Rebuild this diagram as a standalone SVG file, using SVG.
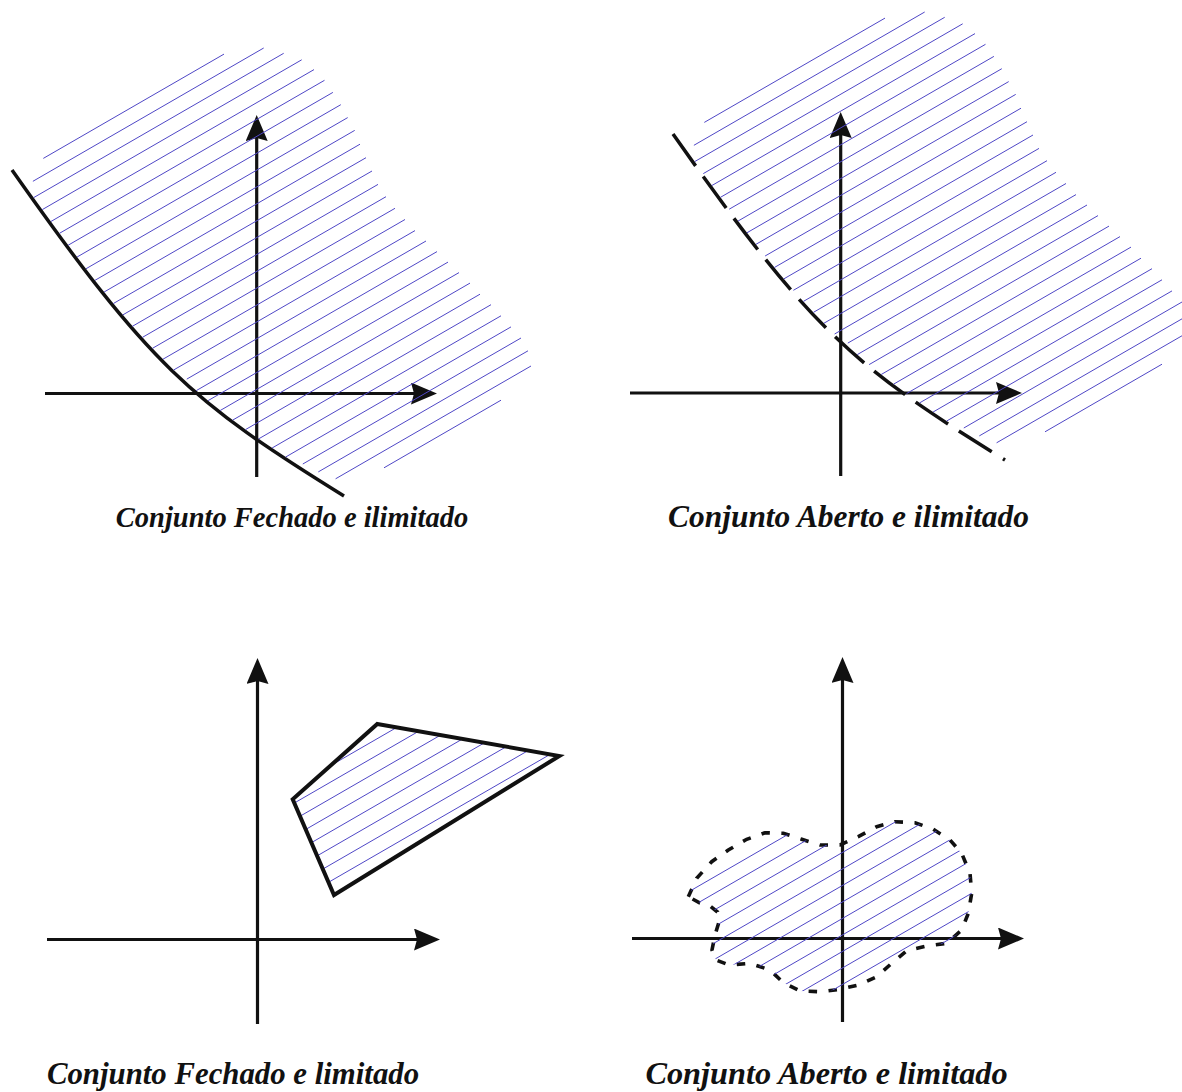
<svg xmlns="http://www.w3.org/2000/svg" width="1182" height="1092" viewBox="0 0 1182 1092">
<style>
.ax{stroke:#111;stroke-width:3.2;fill:none;marker-end:url(#ah)}
.h line,.h path{stroke:#4f47c6;stroke-width:1;fill:none}
.lbl{font-family:"Liberation Serif","Times New Roman",serif;font-weight:bold;font-style:italic;fill:#111;text-anchor:middle}
.bd{stroke:#111;fill:none}
</style>
<defs>
<marker id="ah" viewBox="0 0 26 22" refX="11" refY="11" markerWidth="26" markerHeight="22" markerUnits="userSpaceOnUse" orient="auto">
<path d="M0,0 L26,11 L0,22 L3,11 Z" fill="#111"/>
</marker>
<clipPath id="polyClip"><polygon points="377.3,724 559.3,756 334,895 292.7,799.3"/></clipPath>
<clipPath id="blobClip"><path id="blobShape" d="M688.3,896.7 L696.7,878.3 L711.7,861.7 L728.3,850 L746.7,839.3 L765,832.7 L783.3,833.3 L801.7,839.3 L820,845 L840,845 L858.3,836.7 L876.7,826.7 L895,821.7 L915,822.7 L933.3,829.3 L950,840 L961.7,853.3 L970,873.3 L971.7,893.3 L968.3,913.3 L961.7,930 L946.7,943.3 L926.7,946 L906.7,950.7 L891.7,963.3 L876.7,976.7 L858.3,985 L840,989.3 L820,991.7 L800,991 L783.3,982.7 L770,970 L750,963.3 L729,965 L716,960 L712,950 L715,935 L719,922 L717.5,912 L710,906 L700,903 Z"/></clipPath>
<g id="hatchTop" class="h">
<line x1="43.3" y1="158.4" x2="224" y2="54.1"/>
<line x1="32.9" y1="181.3" x2="263.7" y2="48"/>
<line x1="33.7" y1="197.6" x2="283.7" y2="53.3"/>
<line x1="42.3" y1="209.6" x2="301.7" y2="59.8"/>
<line x1="50.9" y1="221.5" x2="314" y2="69.6"/>
<line x1="59.5" y1="233.3" x2="324.5" y2="80.3"/>
<line x1="68.2" y1="245.2" x2="332.9" y2="92.4"/>
<line x1="77.1" y1="257" x2="340.8" y2="104.7"/>
<line x1="85.9" y1="268.8" x2="347.7" y2="117.6"/>
<line x1="95" y1="280.3" x2="354.7" y2="130.4"/>
<line x1="104.1" y1="292" x2="360" y2="144.2"/>
<line x1="113.4" y1="303.5" x2="366" y2="157.7"/>
<line x1="122.8" y1="314.9" x2="372" y2="171"/>
<line x1="132.4" y1="326.3" x2="378" y2="184.4"/>
<line x1="142.4" y1="337.4" x2="386" y2="196.7"/>
<line x1="152.5" y1="348.3" x2="395" y2="208.3"/>
<line x1="163" y1="359.2" x2="405" y2="219.5"/>
<line x1="173.6" y1="370" x2="415" y2="230.6"/>
<line x1="186.8" y1="379.1" x2="426" y2="241"/>
<line x1="196.3" y1="390.6" x2="437" y2="251.6"/>
<line x1="208.1" y1="400.6" x2="448" y2="262.1"/>
<line x1="220.2" y1="410.5" x2="459" y2="272.6"/>
<line x1="232.7" y1="420.1" x2="470" y2="283.1"/>
<line x1="245.5" y1="429.6" x2="480" y2="294.2"/>
<line x1="258.6" y1="438.9" x2="491" y2="304.7"/>
<line x1="272.1" y1="448" x2="501" y2="315.8"/>
<line x1="285.7" y1="457" x2="511" y2="326.9"/>
<line x1="302.8" y1="464" x2="521" y2="338"/>
<line x1="318.3" y1="471.9" x2="528" y2="350.8"/>
<line x1="335.6" y1="478.8" x2="531" y2="366"/>
<line x1="384" y1="467.8" x2="501" y2="400.2"/>
</g>
</defs>

<g id="panel-fechado-ilimitado">
<line class="ax" x1="45" y1="393.5" x2="422" y2="393.5"/>
<line class="ax" x1="256.7" y1="477" x2="256.7" y2="130"/>
<path class="bd" stroke-width="3.5" d="M12,170 C150,366 190,400.6 344,496"/>
<use href="#hatchTop"/>
<text class="lbl" x="292" y="527" font-size="28.5">Conjunto Fechado e ilimitado</text>
</g>

<g id="panel-aberto-ilimitado">
<line class="ax" x1="630" y1="393" x2="1007" y2="393"/>
<line class="ax" x1="840.7" y1="476" x2="840.7" y2="127"/>
<path class="bd" stroke-width="3.5" stroke-dasharray="39 13" d="M673,134 C811,330 851,364.6 1005,460"/>
<use href="#hatchTop" transform="translate(661,-36)"/>
<text class="lbl" x="848.5" y="527" font-size="31.4">Conjunto Aberto e ilimitado</text>
</g>

<g id="panel-fechado-limitado">
<line class="ax" x1="47" y1="939.5" x2="425" y2="939.5"/>
<line class="ax" x1="257.5" y1="1024" x2="257.5" y2="673"/>
<g class="h" clip-path="url(#polyClip)">
<line x1="280" y1="794.8" x2="570" y2="627.4"/>
<line x1="280" y1="811.3" x2="570" y2="643.9"/>
<line x1="280" y1="827.8" x2="570" y2="660.4"/>
<line x1="280" y1="844.3" x2="570" y2="676.9"/>
<line x1="280" y1="860.8" x2="570" y2="693.4"/>
<line x1="280" y1="877.3" x2="570" y2="709.9"/>
<line x1="280" y1="893.8" x2="570" y2="726.4"/>
<line x1="280" y1="910.3" x2="570" y2="742.9"/>
</g>
<polygon class="bd" stroke-width="4" points="377.3,724 559.3,756 334,895 292.7,799.3"/>
<text class="lbl" x="233" y="1084" font-size="30.8">Conjunto Fechado e limitado</text>
</g>

<g id="panel-aberto-limitado">
<line class="ax" x1="632" y1="938.5" x2="1009" y2="938.5"/>
<line class="ax" x1="842.5" y1="1022" x2="842.5" y2="672"/>
<use href="#blobShape" class="bd" stroke-width="3.6" stroke-dasharray="8.5 11.5"/>
<g class="h" clip-path="url(#blobClip)">
<line x1="680" y1="896.8" x2="980" y2="723.5"/>
<line x1="680" y1="913.3" x2="980" y2="740"/>
<line x1="680" y1="929.8" x2="980" y2="756.5"/>
<line x1="680" y1="946.3" x2="980" y2="773"/>
<line x1="680" y1="962.8" x2="980" y2="789.5"/>
<line x1="680" y1="979.3" x2="980" y2="806"/>
<line x1="680" y1="995.8" x2="980" y2="822.5"/>
<line x1="680" y1="1012.3" x2="980" y2="839"/>
<line x1="680" y1="1028.8" x2="980" y2="855.5"/>
<line x1="680" y1="1045.3" x2="980" y2="872"/>
<line x1="680" y1="1061.8" x2="980" y2="888.5"/>
<line x1="680" y1="1078.3" x2="980" y2="905"/>
<line x1="680" y1="1094.8" x2="980" y2="921.5"/>
</g>
<text class="lbl" x="826.5" y="1084" font-size="32.3">Conjunto Aberto e limitado</text>
</g>
</svg>
